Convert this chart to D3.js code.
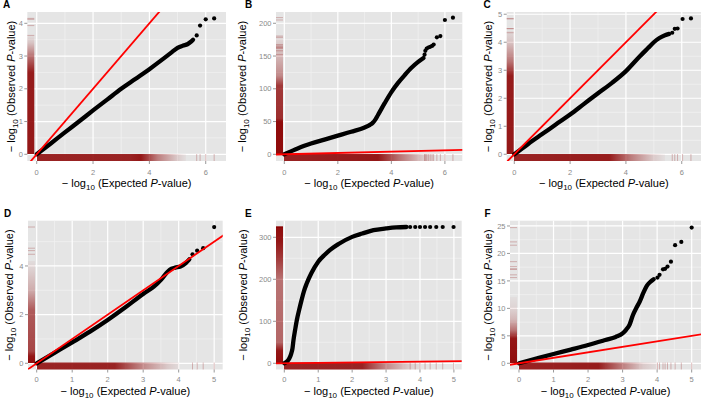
<!DOCTYPE html>
<html><head><meta charset="utf-8">
<script src="https://cdn.jsdelivr.net/npm/d3@7/dist/d3.min.js"></script>
<style>
body{margin:0;background:#fff}
svg{display:block}
text{font-family:"Liberation Sans",Arial,Helvetica,sans-serif}
</style>
</head><body>
<svg id="chart" width="701" height="403"></svg>
<script>
// ---------------- DATA ----------------
const panelLabels = ["A","B","C","D","E","F"];

const xTicksRow1 = [0,2,4,6];
const xTicksRow2 = [0,1,2,3,4,5];
const yTicksA = [0,1,2,3,4];
const yTicksB = [0,50,100,150,200];
const yTicksC = [0,1,2,3,4,5];
const yTicksD = [0,2,4];
const yTicksE = [0,100,200,300];
const yTicksF = [0,5,10,15,20,25];

// axis ranges (expected, observed)
const xRangeA = [-0.334, 6.72], yRangeA = [-0.205, 4.345];
const xRangeB = [-0.31, 6.65],  yRangeB = [-10.2, 217.2];
const xRangeC = [-0.272, 6.69], yRangeC = [-0.24, 5.08];
const xRangeD = [-0.245, 5.24], yRangeD = [-0.255, 5.86];
const xRangeE = [-0.245, 5.23], yRangeE = [-14.8, 339.5];
const xRangeF = [-0.26, 5.27],  yRangeF = [-1.13, 25.96];

// dense part of each QQ cloud [expected, observed]
const curveA = [[0,0],[0.5,0.33],[1,0.67],[1.5,1.0],[2,1.34],[2.5,1.67],[3,2.0],[3.5,2.3],[4,2.6],[4.5,2.92],[4.8,3.12],[5.0,3.25],[5.2,3.32],[5.35,3.36],[5.45,3.42],[5.55,3.5]];
const pointsA = [[5.68,3.63],[5.8,3.93],[6.0,4.12],[6.3,4.15]];

const curveB = [[0,0],[0.25,4.5],[0.5,9],[0.75,13],[1,16.5],[1.5,22.5],[2,28.5],[2.5,34.5],[3,41],[3.2,45],[3.3,48],[3.4,53],[3.5,60],[3.75,78],[4,95],[4.25,109],[4.5,121],[4.75,132],[5,141],[5.2,147]];
const pointsB = [[5.24,152],[5.27,158],[5.32,161.5],[5.38,163],[5.45,164],[5.52,165.5],[5.58,167.5],[5.7,178.5],[5.83,180.5],[6.0,205],[6.3,208.6]];

const curveC = [[0,0],[0.5,0.37],[1,0.72],[1.5,1.07],[2,1.42],[2.5,1.8],[3,2.18],[3.5,2.55],[4,2.97],[4.5,3.5],[4.8,3.8],[5.0,4.0],[5.2,4.15],[5.4,4.25],[5.55,4.3]];
const pointsC = [[5.66,4.34],[5.75,4.48],[5.85,4.49],[6.03,4.83],[6.33,4.85]];

const curveD = [[0,0],[0.5,0.43],[1,0.86],[1.5,1.3],[2,1.78],[2.5,2.3],[3,2.85],[3.3,3.15],[3.5,3.43],[3.65,3.7],[3.75,3.85],[3.9,3.93],[4.05,3.98],[4.2,4.12],[4.3,4.27]];
const pointsD = [[4.39,4.48],[4.52,4.63],[4.69,4.73],[5.0,5.6]];

const curveE = [[0,0],[0.08,4],[0.15,12],[0.2,22],[0.24,35],[0.27,55],[0.32,80],[0.37,103],[0.44,128],[0.51,151],[0.58,172],[0.66,190],[0.8,215],[1.0,242],[1.2,259],[1.35,270],[1.6,284],[2.0,301],[2.3,309],[2.63,317],[3.0,321],[3.3,323.5],[3.6,324.5]];
const pointsE = [[3.71,324.5],[3.86,324.5],[4.0,324.5],[4.15,324.5],[4.3,324.5],[4.48,324.5],[4.67,324.5],[4.99,324.5]];

const curveF = [[0,0],[0.5,0.85],[1,1.69],[1.5,2.5],[2,3.33],[2.5,4.24],[2.8,4.8],[3.0,5.45],[3.1,6.1],[3.2,7.0],[3.3,8.8],[3.4,10.1],[3.5,11.3],[3.6,12.8],[3.7,14.1],[3.8,14.8],[3.9,15.3]];
const pointsF = [[4.01,15.6],[4.07,16.1],[4.17,17.1],[4.23,17.2],[4.3,17.6],[4.4,18.5],[4.52,21.5],[4.7,22.1],[5.0,24.7]];

// rug density (value, opacity) read from the marginal rugs
const rugXA = [[0,0.85],[3.3,0.85],[3.7,0.9],[4.3,0.45],[5.0,0.12],[5.3,0.03]];
const rugYA = [[0,0.9],[2.5,0.88],[3.0,0.5],[3.4,0.15],[3.6,0.05]];
const rugXB = [[0,0.85],[3.5,0.9],[4.3,0.5],[5.2,0.12],[5.6,0.03]];
const rugYB = [[0,0.95],[50,0.95],[55,0.8],[105,0.75],[120,0.4],[150,0.2],[175,0.08],[180,0.02]];
const rugXC = [[0,0.85],[3.4,0.88],[4.2,0.45],[5.0,0.12],[5.4,0.03]];
const rugYC = [[0,0.9],[2.8,0.88],[3.3,0.5],[4.0,0.15],[4.4,0.05]];
const rugXD = [[0,0.85],[2.2,0.85],[3.0,0.4],[3.7,0.12],[4.0,0.05]];
const rugYD = [[0,0.95],[0.3,0.9],[0.5,0.7],[2.2,0.6],[3.0,0.25],[3.8,0.1],[4.2,0.04]];
const rugXE = [[0,0.85],[2.3,0.85],[3.0,0.4],[3.7,0.1],[4.0,0.04]];
const rugYE = [[0,0.95],[30,0.9],[50,0.55],[200,0.5],[250,0.75],[290,0.9],[325,0.95]];
const rugXF = [[0,0.85],[2.3,0.88],[3.0,0.45],[3.6,0.12],[4.0,0.04]];
const rugYF = [[0,0.95],[4.5,0.9],[6,0.5],[8,0.2],[10,0.08],[12,0.03]];

// ---------------- LAYOUT ----------------
const layout = [
  {rect:[27.3,12,226,161],   lab:[3,8],     yt:14.5, tl:14, tt:25.5},
  {rect:[276,12,462.3,161],  lab:[245,8],   yt:245.5, tl:14, tt:25.5},
  {rect:[506.7,12,701,161],  lab:[483.5,8], yt:492, tl:14, tt:25.5},
  {rect:[28,220.7,222.7,369.5], lab:[4,216.5], yt:12.7, tl:12, tt:25.5},
  {rect:[276,220.7,461.7,369.5],lab:[245,216.5],yt:247, tl:12, tt:25.5},
  {rect:[510,220.7,701,369.5],  lab:[484.5,216.5],yt:492, tl:12, tt:25.5}
];

const panels = [
  {xd:xRangeA, yd:yRangeA, xt:xTicksRow1, yt:yTicksA, curve:curveA, pts:pointsA, rx:rugXA, ry:rugYA},
  {xd:xRangeB, yd:yRangeB, xt:xTicksRow1, yt:yTicksB, curve:curveB, pts:pointsB, rx:rugXB, ry:rugYB},
  {xd:xRangeC, yd:yRangeC, xt:xTicksRow1, yt:yTicksC, curve:curveC, pts:pointsC, rx:rugXC, ry:rugYC},
  {xd:xRangeD, yd:yRangeD, xt:xTicksRow2, yt:yTicksD, curve:curveD, pts:pointsD, rx:rugXD, ry:rugYD},
  {xd:xRangeE, yd:yRangeE, xt:xTicksRow2, yt:yTicksE, curve:curveE, pts:pointsE, rx:rugXE, ry:rugYE},
  {xd:xRangeF, yd:yRangeF, xt:xTicksRow2, yt:yTicksF, curve:curveF, pts:pointsF, rx:rugXF, ry:rugYF}
];

const svg = d3.select("#chart");
const defs = svg.append("defs");
const RUG = "#8B0000";

function minorTicks(ticks, dom){
  const step = ticks[1]-ticks[0];
  const c = ticks.map(t=>t-step/2).concat([ticks[ticks.length-1]+step/2]);
  return c.filter(v=>v>dom[0] && v<dom[1]);
}

function rugGradient(id, stops, scale, dom, horizontal){
  const a = scale(dom[0]), b = scale(dom[1]);
  const gr = defs.append("linearGradient").attr("id",id).attr("gradientUnits","userSpaceOnUse");
  if (horizontal) gr.attr("x1",a).attr("x2",b).attr("y1",0).attr("y2",0);
  else gr.attr("x1",0).attr("x2",0).attr("y1",a).attr("y2",b);
  const off = v => Math.max(0,Math.min(1,(scale(v)-a)/(b-a)));
  gr.append("stop").attr("offset",off(stops[0][0])).attr("stop-color",RUG).attr("stop-opacity",0);
  stops.forEach(s=>gr.append("stop").attr("offset",off(s[0])).attr("stop-color",RUG).attr("stop-opacity",s[1]));
  const last = stops[stops.length-1][0];
  gr.append("stop").attr("offset",off(last)).attr("stop-color",RUG).attr("stop-opacity",0);
}

panels.forEach((p,i)=>{
  const L0 = layout[i];
  const [L,T,R,B] = L0.rect;
  const x = d3.scaleLinear().domain(p.xd).range([L,R]);
  const y = d3.scaleLinear().domain(p.yd).range([B,T]);
  const g = svg.append("g");
  const cid = "clip"+i;
  defs.append("clipPath").attr("id",cid).append("rect")
    .attr("x",L).attr("y",T).attr("width",R-L).attr("height",B-T);

  g.append("rect").attr("x",L).attr("y",T).attr("width",R-L).attr("height",B-T).attr("fill","#E5E5E5");

  // grid
  const grid = g.append("g");
  minorTicks(p.xt,p.xd).forEach(v=>grid.append("line").attr("x1",x(v)).attr("x2",x(v)).attr("y1",T).attr("y2",B)
    .attr("stroke","#F2F2F2").attr("stroke-width",0.7));
  minorTicks(p.yt,p.yd).forEach(v=>grid.append("line").attr("y1",y(v)).attr("y2",y(v)).attr("x1",L).attr("x2",R)
    .attr("stroke","#F2F2F2").attr("stroke-width",0.7));
  p.xt.forEach(v=>grid.append("line").attr("x1",x(v)).attr("x2",x(v)).attr("y1",T).attr("y2",B)
    .attr("stroke","#FFFFFF").attr("stroke-width",1.2));
  p.yt.forEach(v=>grid.append("line").attr("y1",y(v)).attr("y2",y(v)).attr("x1",L).attr("x2",R)
    .attr("stroke","#FFFFFF").attr("stroke-width",1.2));

  // rugs
  const rugLen = 7;
  rugGradient("rx"+i, p.rx, x, p.xd, true);
  rugGradient("ry"+i, p.ry, y, p.yd, false);
  g.append("rect").attr("x",L).attr("y",B-rugLen).attr("width",R-L).attr("height",rugLen).attr("fill","url(#rx"+i+")");
  g.append("rect").attr("x",L).attr("y",T).attr("width",rugLen).attr("height",B-T).attr("fill","url(#ry"+i+")");
  const rt = g.append("g").attr("stroke",RUG).attr("stroke-opacity",0.25).attr("stroke-width",1);
  p.pts.forEach(d=>{
    rt.append("line").attr("x1",x(d[0])).attr("x2",x(d[0])).attr("y1",B-rugLen).attr("y2",B);
    rt.append("line").attr("y1",y(d[1])).attr("y2",y(d[1])).attr("x1",L).attr("x2",L+rugLen);
  });

  // points
  const pg = g.append("g").attr("clip-path","url(#"+cid+")");
  const line = d3.line().x(d=>x(d[0])).y(d=>y(d[1])).curve(d3.curveMonotoneX);
  pg.append("path").attr("d",line(p.curve)).attr("fill","none").attr("stroke","#000")
    .attr("stroke-width",4.3).attr("stroke-linecap","round").attr("stroke-linejoin","round");
  pg.selectAll("circle").data(p.pts).enter().append("circle")
    .attr("cx",d=>x(d[0])).attr("cy",d=>y(d[1])).attr("r",2.1).attr("fill","#000");

  // y = x reference line
  const lo = Math.min(p.xd[0],p.yd[0]), hi = Math.max(p.xd[1],p.yd[1]);
  pg.append("line").attr("x1",x(lo)).attr("y1",y(lo)).attr("x2",x(hi)).attr("y2",y(hi))
    .attr("stroke","#FF0000").attr("stroke-width",1.8);

  // axes ticks and labels
  const ax = svg.append("g");
  p.xt.forEach(v=>{
    ax.append("line").attr("x1",x(v)).attr("x2",x(v)).attr("y1",B).attr("y2",B+3).attr("stroke","#7F7F7F").attr("stroke-width",0.8);
    ax.append("text").attr("x",x(v)).attr("y",B+L0.tl).attr("text-anchor","middle").attr("font-size",7.5).attr("fill","#8A8A8A").text(v);
  });
  p.yt.forEach(v=>{
    ax.append("line").attr("x1",L-3).attr("x2",L).attr("y1",y(v)).attr("y2",y(v)).attr("stroke","#7F7F7F").attr("stroke-width",0.8);
    ax.append("text").attr("x",L-4.5).attr("y",y(v)+2.7).attr("text-anchor","end").attr("font-size",7.5).attr("fill","#8A8A8A").text(v);
  });

  // axis titles
  const cx = (L+R)/2, cy = (T+B)/2;
  const xt = ax.append("text").attr("x",cx).attr("y",B+L0.tt).attr("text-anchor","middle").attr("font-size",11).attr("fill","#000");
  xt.append("tspan").text("\u2212 log");
  xt.append("tspan").attr("dy",3).attr("font-size",8).text("10");
  xt.append("tspan").attr("dy",-3).text(" (Expected ");
  xt.append("tspan").attr("font-style","italic").text("P");
  xt.append("tspan").text("-value)");

  const yt = ax.append("text").attr("transform","translate("+L0.yt+","+cy+") rotate(-90)")
    .attr("text-anchor","middle").attr("font-size",11).attr("fill","#000");
  yt.append("tspan").text("\u2212 log");
  yt.append("tspan").attr("dy",3).attr("font-size",8).text("10");
  yt.append("tspan").attr("dy",-3).text(" (Observed ");
  yt.append("tspan").attr("font-style","italic").text("P");
  yt.append("tspan").text("-value)");

  svg.append("text").attr("x",L0.lab[0]).attr("y",L0.lab[1]).attr("font-size",10).attr("font-weight","bold").attr("fill","#000").text(panelLabels[i]);
});
</script>
</body></html>
